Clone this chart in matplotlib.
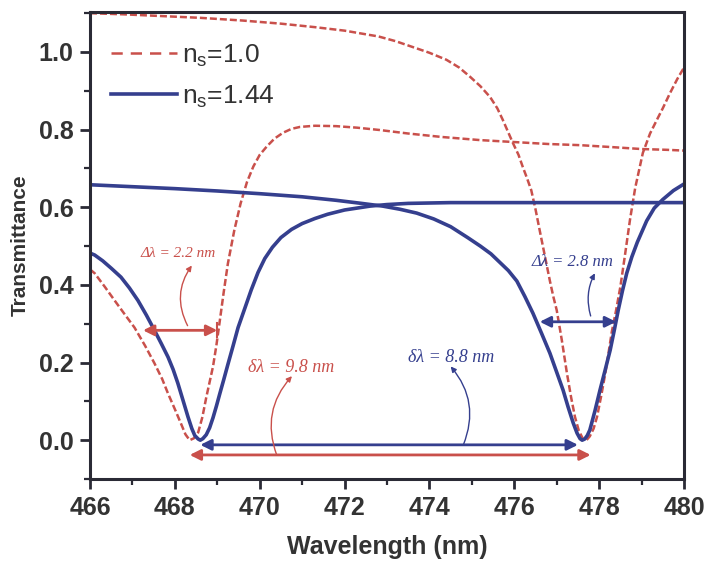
import matplotlib
matplotlib.use("Agg")
import matplotlib.pyplot as plt
from matplotlib.lines import Line2D
from matplotlib.ticker import MultipleLocator

plt.rcParams['font.family'] = ['Liberation Sans', 'DejaVu Sans']

# ---- transmittance spectra ----
# n_s = 1.0 : short-wavelength resonance
wl_r1 = [466.0, 466.11, 466.35, 466.58, 466.8, 467.05, 467.3, 467.52, 467.7, 467.84,
         468.0, 468.14, 468.25, 468.35, 468.45, 468.55, 468.65, 468.74, 468.82, 468.9,
         468.98, 469.05, 469.15, 469.25, 469.4, 469.55, 469.7, 469.85, 470.0, 470.17,
         470.35, 470.55, 470.75, 470.95, 471.3, 471.8, 472.3, 472.83, 473.5, 474.3,
         475.2, 476.0, 476.8, 477.55, 478.3, 479.0, 479.6, 480.0]
t_r1 = [0.440, 0.430, 0.395, 0.360, 0.327, 0.290, 0.243, 0.198, 0.158, 0.120,
        0.080, 0.044, 0.015, 0.0, 0.005, 0.020, 0.060, 0.110, 0.150, 0.190,
        0.245, 0.300, 0.380, 0.455, 0.540, 0.610, 0.665, 0.705, 0.735, 0.757,
        0.777, 0.792, 0.802, 0.807, 0.810, 0.809, 0.805, 0.799, 0.790, 0.781,
        0.773, 0.768, 0.763, 0.760, 0.755, 0.750, 0.748, 0.746]

# n_s = 1.0 : long-wavelength resonance
wl_r2 = [466.0, 466.8, 467.6, 468.6, 469.6, 470.5, 471.3, 472.0, 472.8, 473.2,
         473.6, 474.0, 474.4, 474.7, 474.96, 475.2, 475.43, 475.6, 475.73, 475.85,
         475.97, 476.1, 476.2, 476.3, 476.4, 476.5, 476.6, 476.72, 476.84, 476.92,
         477.0, 477.12, 477.24, 477.34, 477.43, 477.52, 477.62, 477.7, 477.78, 477.87,
         477.95, 478.05, 478.15, 478.3, 478.4, 478.5, 478.6, 478.73, 478.85, 479.03,
         479.2, 479.36, 479.5, 479.67, 479.84, 480.0]
t_r2 = [1.100, 1.097, 1.093, 1.088, 1.081, 1.073, 1.064, 1.055, 1.040, 1.028,
        1.013, 0.998, 0.980, 0.960, 0.936, 0.912, 0.884, 0.855, 0.825, 0.795,
        0.765, 0.735, 0.704, 0.675, 0.644, 0.595, 0.540, 0.475, 0.410, 0.370,
        0.335, 0.258, 0.173, 0.110, 0.060, 0.025, 0.003, 0.0, 0.010, 0.030,
        0.060, 0.115, 0.175, 0.280, 0.335, 0.395, 0.470, 0.570, 0.650, 0.740,
        0.790, 0.825, 0.855, 0.894, 0.930, 0.960]

# n_s = 1.44 : short-wavelength resonance
wl_b1 = [466.0, 466.11, 466.3, 466.5, 466.73, 466.93, 467.13, 467.33, 467.52, 467.68,
         467.84, 467.96, 468.07, 468.2, 468.31, 468.4, 468.47, 468.55, 468.6, 468.66,
         468.74, 468.82, 468.9, 468.98, 469.06, 469.15, 469.25, 469.37, 469.49, 469.65,
         469.8, 469.96, 470.12, 470.3, 470.5, 470.75, 471.0, 471.3, 471.6, 472.0,
         472.6, 473.0, 473.5, 474.5, 476.0, 478.0, 480.0]
t_b1 = [0.482, 0.477, 0.462, 0.443, 0.420, 0.392, 0.360, 0.322, 0.283, 0.249,
        0.214, 0.182, 0.147, 0.100, 0.060, 0.030, 0.012, 0.003, 0.0, 0.004,
        0.014, 0.032, 0.058, 0.088, 0.120, 0.155, 0.195, 0.242, 0.290, 0.340,
        0.387, 0.432, 0.468, 0.497, 0.522, 0.543, 0.558, 0.571, 0.582, 0.593,
        0.603, 0.607, 0.610, 0.612, 0.612, 0.612, 0.612]

# n_s = 1.44 : long-wavelength resonance
wl_b2 = [466.0, 467.0, 468.0, 469.0, 470.0, 471.0, 471.8, 472.4, 472.9, 473.3,
         473.7, 474.1, 474.5, 474.9, 475.2, 475.45, 475.66, 475.86, 476.06, 476.25,
         476.44, 476.64, 476.84, 477.0, 477.15, 477.27, 477.39, 477.48, 477.55, 477.6,
         477.66, 477.72, 477.78, 477.9, 478.02, 478.14, 478.26, 478.36, 478.45, 478.55,
         478.65, 478.77, 478.9, 479.12, 479.3, 479.5, 479.75, 480.0]
t_b2 = [0.658, 0.653, 0.648, 0.642, 0.635, 0.627, 0.618, 0.610, 0.603, 0.595,
        0.585, 0.570, 0.550, 0.522, 0.500, 0.480, 0.458, 0.437, 0.410, 0.370,
        0.327, 0.276, 0.224, 0.175, 0.129, 0.085, 0.044, 0.018, 0.004, 0.0,
        0.003, 0.012, 0.026, 0.075, 0.129, 0.180, 0.232, 0.285, 0.335, 0.385,
        0.430, 0.472, 0.510, 0.565, 0.598, 0.620, 0.643, 0.660]

# resonance positions used by the width annotations
dip_red = (468.35, 477.8)
dip_blue = (468.6, 477.5)
fwhm_red = (467.25, 469.0)
fwhm_blue = (476.6, 478.4)

labels = ['n$_\\mathregular{s}$=1.0', 'n$_\\mathregular{s}$=1.44']
xticks = [466, 468, 470, 472, 474, 476, 478, 480]
yticks = [0.0, 0.2, 0.4, 0.6, 0.8, 1.0]

RED = '#c9504b'
BLUE = '#353f8e'
AX = '#2a2a35'
TXT = '#333333'

fig = plt.figure(figsize=(7.08, 5.64), dpi=100)
ax = fig.add_axes([0.1271, 0.1507, 0.839, 0.828])

dash = (2.8, 1.2)
ax.plot(wl_r1, t_r1, color=RED, lw=1.8, dashes=dash)
ax.plot(wl_r2, t_r2, color=RED, lw=1.8, dashes=dash)
ax.plot(wl_b1, t_b1, color=BLUE, lw=2.6)
ax.plot(wl_b2, t_b2, color=BLUE, lw=2.6)

ax.set_xlim(466, 480)
ax.set_ylim(-0.1, 1.103)
ax.set_xticks(xticks)
ax.set_yticks(yticks)
ax.set_xticklabels([str(v) for v in xticks])
ax.set_yticklabels([f'{v:.1f}' for v in yticks])
ax.xaxis.set_minor_locator(MultipleLocator(1))
ax.yaxis.set_minor_locator(MultipleLocator(0.1))
ax.tick_params(which='major', direction='out', length=7, width=2, color=AX,
               labelsize=18, labelcolor=TXT, pad=5)
ax.tick_params(which='minor', direction='out', length=4, width=1.6, color=AX)
for lab in ax.get_xticklabels() + ax.get_yticklabels():
    lab.set_fontweight('bold')
for s in ax.spines.values():
    s.set_linewidth(2.2)
    s.set_color(AX)

ax.set_xlabel('Wavelength (nm)', fontsize=18, fontweight='bold', color=TXT, labelpad=11)
ax.set_ylabel('Transmittance', fontsize=15, fontweight='bold', color=TXT, labelpad=6)

handles = [Line2D([], [], color=RED, lw=1.8, dashes=(4.5, 3.2)),
           Line2D([], [], color=BLUE, lw=2.6)]
leg = ax.legend(handles, labels, loc='upper left', bbox_to_anchor=(0.035, 0.935),
                frameon=False, fontsize=19, handlelength=2.5, handletextpad=0.2,
                labelspacing=0.55, borderpad=0, borderaxespad=0)
for t in leg.get_texts():
    t.set_color(TXT)

serif = dict(family=['Liberation Serif', 'DejaVu Serif'], style='italic')

def span_arrow(x0, x1, y, color):
    ax.annotate('', xy=(x0, y), xytext=(x1, y),
                arrowprops=dict(arrowstyle='<|-|>', color=color, lw=2, mutation_scale=16,
                                shrinkA=0, shrinkB=0))

def leader(x0, y0, x1, y1, color, rad):
    ax.annotate('', xy=(x1, y1), xytext=(x0, y0),
                arrowprops=dict(arrowstyle='-|>', color=color, lw=1, mutation_scale=8,
                                connectionstyle=f'arc3,rad={rad}', shrinkA=0, shrinkB=0))

# separation between the two resonances
span_arrow(dip_red[0], dip_red[1], -0.038, RED)
span_arrow(dip_blue[0], dip_blue[1], -0.012, BLUE)
# resonance linewidths
span_arrow(fwhm_red[0], fwhm_red[1], 0.283, RED)
ax.plot([fwhm_red[1], fwhm_red[1]], [0.265, 0.301], color=RED, lw=1.5)
span_arrow(fwhm_blue[0], fwhm_blue[1], 0.305, BLUE)

ax.text(468.07, 0.482, 'Δλ = 2.2 nm', color=RED, fontsize=11, ha='center', va='center', **serif)
leader(468.3, 0.295, 468.4, 0.45, RED, -0.3)

ax.text(470.74, 0.188, 'δλ = 9.8 nm', color=RED, fontsize=13, ha='center', va='center', **serif)
leader(470.4, -0.038, 470.76, 0.165, RED, -0.3)

ax.text(474.5, 0.214, 'δλ = 8.8 nm', color=BLUE, fontsize=13, ha='center', va='center', **serif)
leader(474.8, -0.012, 474.5, 0.19, BLUE, 0.3)

ax.text(477.36, 0.459, 'Δλ = 2.8 nm', color=BLUE, fontsize=12, ha='center', va='center', **serif)
leader(477.8, 0.32, 477.9, 0.43, BLUE, -0.2)

fig.savefig('out.png', dpi=100)
